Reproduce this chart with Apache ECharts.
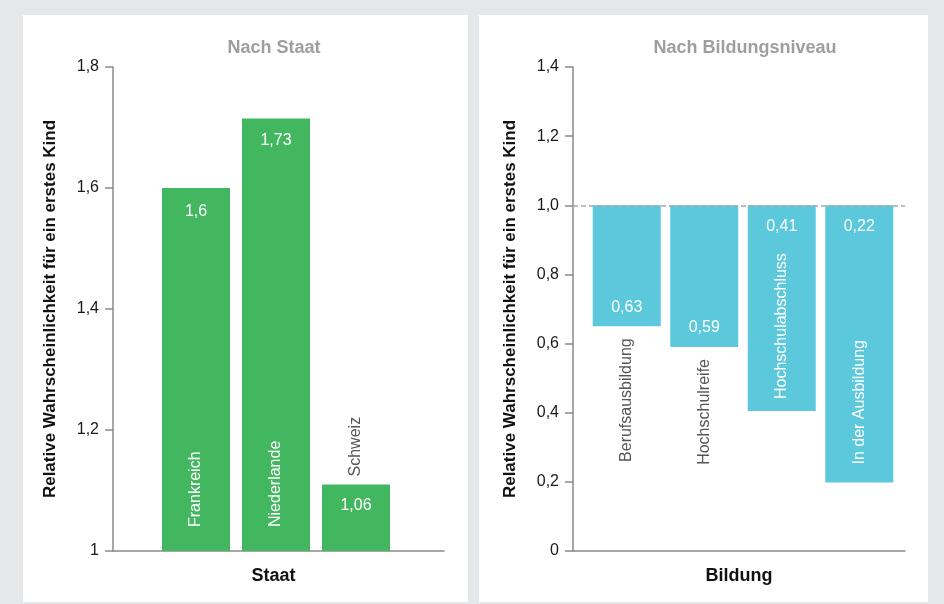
<!DOCTYPE html>
<html><head><meta charset="utf-8">
<script src="https://cdn.jsdelivr.net/npm/echarts@6/dist/echarts.min.js"></script>
<style>
html,body{margin:0;padding:0;background:#e6e7e9;width:944px;height:604px;overflow:hidden;}
.panel{position:absolute;background:#fff;top:15px;height:587px;}
#p1{left:23px;width:445px;}
#p2{left:479px;width:449px;}
#chart{position:absolute;left:0;top:0;width:944px;height:604px;}
</style></head><body>
<div class="panel" id="p1"></div><div class="panel" id="p2"></div>
<div id="chart"></div>
<script>
// ---- data ----
const stateCategories = ['Frankreich', 'Niederlande', 'Schweiz'];
const stateValues = [1.60, 1.715, 1.11];
const stateValueLabels = ['1,6', '1,73', '1,06'];
const stateTickLabels = ['1', '1,2', '1,4', '1,6', '1,8'];
const stateBase = 1.0;

const eduCategories = ['Berufsausbildung', 'Hochschulreife', 'Hochschulabschluss', 'In der Ausbildung'];
const eduValues = [0.65, 0.59, 0.405, 0.198];
const eduValueLabels = ['0,63', '0,59', '0,41', '0,22'];
const eduTickLabels = ['0', '0,2', '0,4', '0,6', '0,8', '1,0', '1,2', '1,4'];
const eduReference = 1.0;

const titleLeft = 'Nach Staat';
const titleRight = 'Nach Bildungsniveau';
const yName = 'Relative Wahrscheinlichkeit für ein erstes Kind';
const xNameLeft = 'Staat';
const xNameRight = 'Bildung';

// ---- styles ----
const FONT = '"Liberation Sans", Arial, Helvetica, sans-serif';
const GREEN = '#42b760';
const BLUE = '#5bc8dc';
const AXIS = {color: '#8a8a8a', width: 1.5};
const TITLE_STYLE = {fontFamily: FONT, fontSize: 18, fontWeight: 'bold', color: '#9e9e9e'};
const NAME_STYLE_Y = {fontFamily: FONT, fontSize: 17, fontWeight: 'bold', color: '#111'};
const NAME_STYLE_X = {fontFamily: FONT, fontSize: 18, fontWeight: 'bold', color: '#111'};
const BW = 68;

function tickFormatter(labels, min, step) {
  return function (v) { return labels[Math.round((v - min) / step)]; };
}
function axisGridX(idx, name, namePad) {
  return {gridIndex: idx, type: 'value', min: 0, max: 1,
    axisLine: {show: true, onZero: false, lineStyle: AXIS},
    axisTick: {show: false}, axisLabel: {show: false}, splitLine: {show: false},
    name: name, nameLocation: 'middle', nameGap: 16,
    nameTextStyle: Object.assign({padding: namePad}, NAME_STYLE_X)};
}
function axisGridY(idx, min, max, step, labels) {
  return {gridIndex: idx, type: 'value', min: min, max: max, interval: step,
    axisLine: {show: true, onZero: false, lineStyle: AXIS},
    axisTick: {show: true, length: 8, lineStyle: AXIS},
    axisLabel: {margin: 14, fontFamily: FONT, fontSize: 16, color: '#1a1a1a',
      formatter: tickFormatter(labels, min, step)},
    splitLine: {show: false},
    name: yName, nameLocation: 'middle', nameGap: 54, nameTextStyle: NAME_STYLE_Y};
}
const transparent = {color: 'rgba(0,0,0,0)'};
const rotLabelBase = {show: true, rotate: 90, verticalAlign: 'middle', fontFamily: FONT, fontSize: 16};

// left chart series
const leftSeries = [
  {type: 'bar', xAxisIndex: 1, yAxisIndex: 1, stack: 'a', barWidth: BW, barGap: '-100%', silent: true,
    itemStyle: transparent, data: stateValues.map(() => stateBase)},
  {type: 'bar', xAxisIndex: 1, yAxisIndex: 1, stack: 'a', barWidth: BW, barGap: '-100%',
    itemStyle: {color: GREEN},
    data: stateValues.map((v, i) => ({value: v - stateBase,
      label: {distance: [16, 14, 13][i]}})),
    label: {show: true, position: 'insideTop', color: '#fff', fontFamily: FONT, fontSize: 16,
      formatter: p => stateValueLabels[p.dataIndex]}},
  {type: 'bar', xAxisIndex: 1, yAxisIndex: 1, stack: 'b', barWidth: BW, barGap: '-100%', silent: true,
    itemStyle: transparent, data: stateValues.map(() => stateBase)},
  {type: 'bar', xAxisIndex: 1, yAxisIndex: 1, stack: 'b', barWidth: BW, barGap: '-100%', silent: true,
    itemStyle: transparent,
    data: stateValues.map((v, i) => {
      const inside = i < 2;
      return {value: v - stateBase, label: Object.assign({}, rotLabelBase, inside
        ? {position: 'insideBottom', align: 'left', distance: 24, color: '#fff'}
        : {position: 'top', align: 'left', distance: 8, color: '#555'})};
    }),
    label: {show: true, formatter: p => stateCategories[p.dataIndex]}}
];

// right chart series
const rightSeries = [
  {type: 'bar', xAxisIndex: 3, yAxisIndex: 3, stack: 'e', barWidth: BW, barGap: '-100%', silent: true,
    itemStyle: transparent, data: eduValues.slice()},
  {type: 'bar', xAxisIndex: 3, yAxisIndex: 3, stack: 'e', barWidth: BW, barGap: '-100%',
    itemStyle: {color: BLUE},
    data: eduValues.map((v, i) => ({value: eduReference - v,
      label: i < 2 ? {position: 'insideBottom', distance: 11} : {position: 'insideTop', distance: 13}})),
    label: {show: true, color: '#fff', fontFamily: FONT, fontSize: 16,
      formatter: p => eduValueLabels[p.dataIndex]}},
  {type: 'bar', xAxisIndex: 3, yAxisIndex: 3, stack: 'f', barWidth: BW, barGap: '-100%', silent: true,
    itemStyle: transparent,
    data: eduValues.map((v, i) => ({value: v,
      label: i < 2 ? Object.assign({}, rotLabelBase, {position: 'insideTop', align: 'right', distance: 12, color: '#555'})
                   : {show: false}})),
    label: {formatter: p => eduCategories[p.dataIndex]}},
  {type: 'bar', xAxisIndex: 3, yAxisIndex: 3, stack: 'f', barWidth: BW, barGap: '-100%', silent: true,
    itemStyle: transparent,
    data: eduValues.map((v, i) => ({value: eduReference - v,
      label: i >= 2 ? Object.assign({}, rotLabelBase, {position: 'insideBottom', align: 'left', distance: [0, 0, 12, 18][i], color: '#fff'})
                    : {show: false}})),
    label: {formatter: p => eduCategories[p.dataIndex]}},
  {type: 'line', xAxisIndex: 2, yAxisIndex: 2, data: [], silent: true, z: 5,
    markLine: {silent: true, symbol: 'none', label: {show: false},
      lineStyle: {color: '#a8a8a8', type: [5, 3], width: 1.5},
      data: [{yAxis: eduReference}]}}
];

const chart = echarts.init(document.getElementById('chart'), null, {renderer: 'canvas'});
chart.setOption({
  animation: false,
  backgroundColor: 'transparent',
  title: [
    {text: titleLeft, left: 274, top: 39, textAlign: 'center', padding: 0, textStyle: TITLE_STYLE},
    {text: titleRight, left: 745, top: 39, textAlign: 'center', padding: 0, textStyle: TITLE_STYLE}
  ],
  grid: [
    {left: 113, top: 67, width: 331, height: 484},
    {left: 156, top: 67, width: 240, height: 484},
    {left: 573, top: 67, width: 332, height: 484},
    {left: 588, top: 67, width: 310, height: 484}
  ],
  xAxis: [
    axisGridX(0, xNameLeft, [0, 10, 0, 0]),
    {gridIndex: 1, type: 'category', data: stateCategories, show: false},
    axisGridX(2, xNameRight, 0),
    {gridIndex: 3, type: 'category', data: eduCategories, show: false}
  ],
  yAxis: [
    axisGridY(0, 1, 1.8, 0.2, stateTickLabels),
    {gridIndex: 1, type: 'value', min: 1, max: 1.8, show: false},
    axisGridY(2, 0, 1.4, 0.2, eduTickLabels),
    {gridIndex: 3, type: 'value', min: 0, max: 1.4, show: false}
  ],
  series: leftSeries.concat(rightSeries)
});
</script>
</body></html>
